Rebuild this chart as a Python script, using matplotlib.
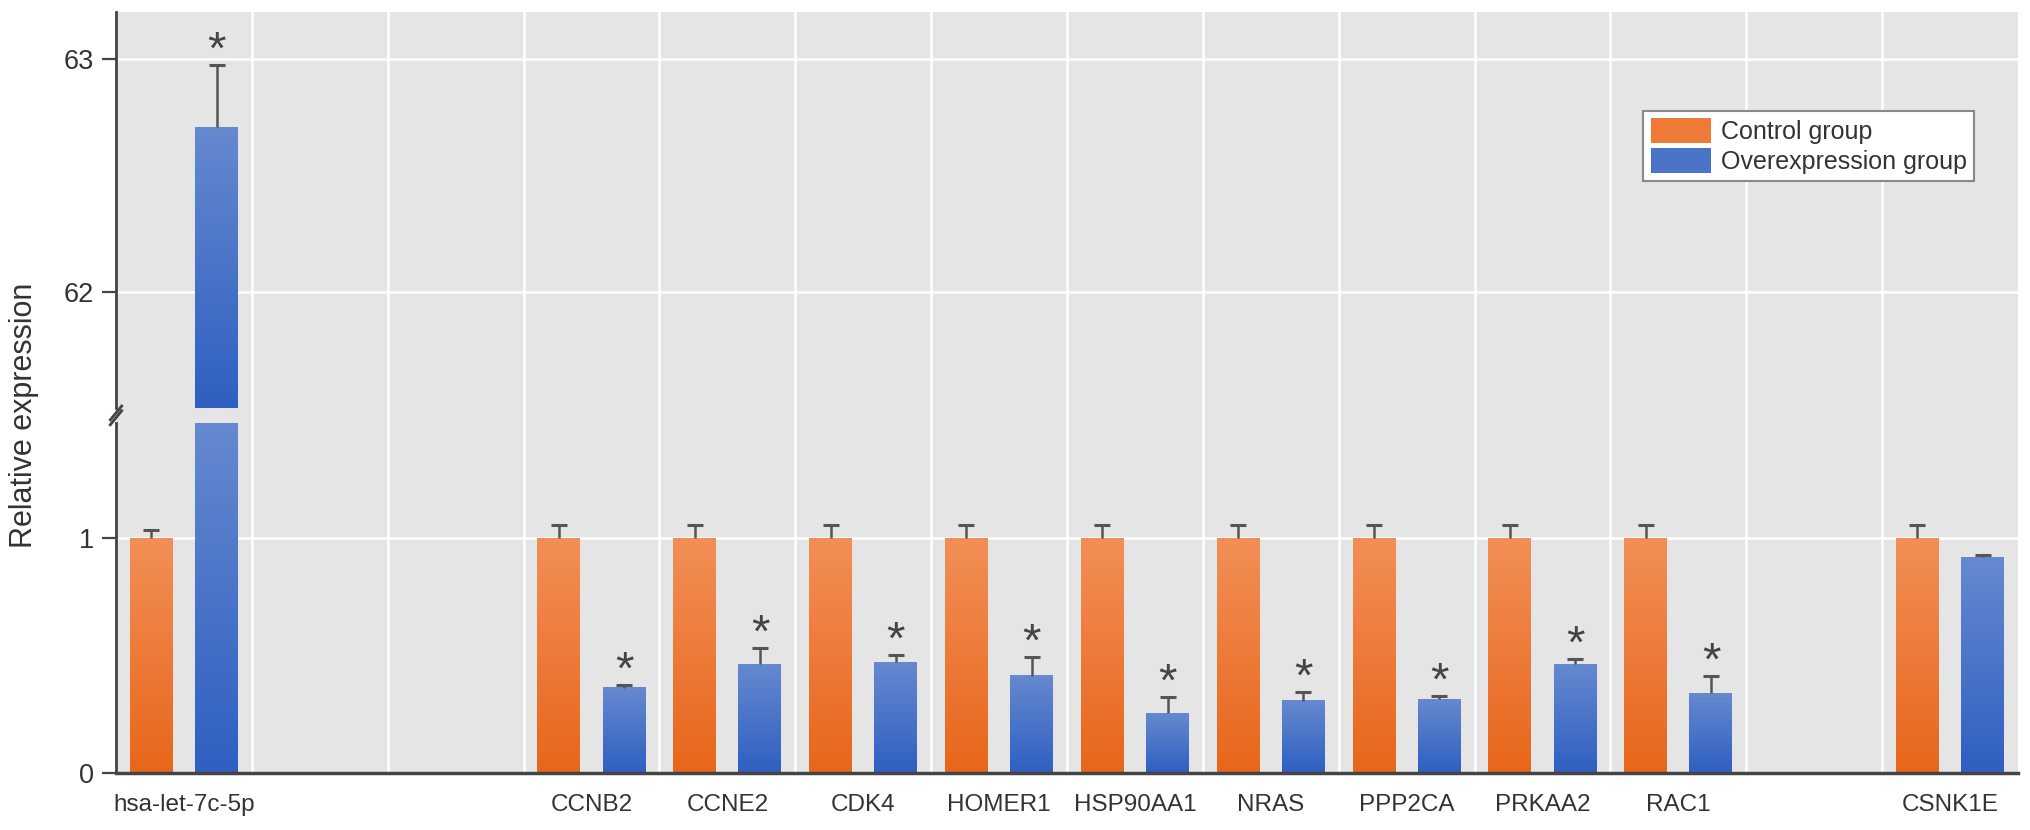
import numpy as np
import matplotlib
matplotlib.use('Agg')
import matplotlib.pyplot as plt
from matplotlib.colors import LinearSegmentedColormap
from matplotlib.patches import Rectangle
from matplotlib.transforms import blended_transform_factory

plt.rcParams['font.family'] = ['Liberation Sans', 'DejaVu Sans']

nan = np.nan
# blank labels are the empty slots on the x axis
labels = ['hsa-let-7c-5p', '', '', 'CCNB2', 'CCNE2', 'CDK4', 'HOMER1', 'HSP90AA1',
          'NRAS', 'PPP2CA', 'PRKAA2', 'RAC1', '', 'CSNK1E']
control = [1.0, nan, nan, 1.0, 1.0, 1.0, 1.0, 1.0, 1.0, 1.0, 1.0, 1.0, nan, 1.0]
control_err = [0.034, nan, nan, 0.055, 0.055, 0.055, 0.055, 0.055, 0.055, 0.055, 0.055, 0.055, nan, 0.055]
over = [62.705, nan, nan, 0.362, 0.464, 0.472, 0.413, 0.255, 0.307, 0.313, 0.464, 0.340, nan, 0.919]
over_err = [0.269, nan, nan, 0.012, 0.068, 0.030, 0.081, 0.070, 0.038, 0.015, 0.021, 0.073, nan, 0.009]
signif = [True, False, False, True, True, True, True, True, True, True, True, True, False, False]

orange_cm = LinearSegmentedColormap.from_list('o', ['#e8661a', '#f28f57'])
blue_cm = LinearSegmentedColormap.from_list('b', ['#2f5fc2', '#6689cf'])
grad = np.linspace(0, 1, 256).reshape(-1, 1)

fig = plt.figure(figsize=(20.31, 8.30), dpi=100)
L, W = 116 / 2031, 1902 / 2031
ax_top = fig.add_axes([L, 422 / 830, W, 396 / 830])
ax_bot = fig.add_axes([L, 57 / 830, W, 350 / 830])
# grey strip in the break gap
fig.add_artist(Rectangle((L, 407 / 830), W, 15 / 830, transform=fig.transFigure,
                         facecolor='#e5e5e5', edgecolor='none', zorder=-1))

x = np.arange(len(labels))
n = len(labels)
off, bw = 0.24, 0.316


def draw(ax, lo, hi):
    ax.set_facecolor('#e5e5e5')
    ax.set_axisbelow(True)
    b1 = ax.bar(x - off, control, bw, color='#ee7a38', zorder=2, label='Control group')
    b2 = ax.bar(x + off, over, bw, color='#4a74c8', zorder=2, label='Overexpression group')
    for bars, cm in ((b1, orange_cm), (b2, blue_cm)):
        for r in bars:
            h = r.get_height()
            if not np.isfinite(h) or h <= lo:
                continue
            ax.imshow(grad, extent=[r.get_x(), r.get_x() + r.get_width(), lo, min(h, hi)],
                      cmap=cm, aspect='auto', origin='lower', zorder=2.5)
    for xs, vals, errs in ((x - off, control, control_err), (x + off, over, over_err)):
        eb = ax.errorbar(xs, vals, yerr=[np.zeros(n), errs], fmt='none',
                         ecolor='#555555', elinewidth=1.8, capsize=5.5, capthick=2.2, zorder=3)
        eb[1][0].set_visible(False)  # no cap at the bar top
    for i in range(n):
        if signif[i] and lo <= over[i] + over_err[i] <= hi:
            ax.annotate('*', (x[i] + off, over[i] + over_err[i]), xytext=(0, 1),
                        textcoords='offset points', ha='center', va='baseline',
                        fontsize=34, color='#444444', zorder=4)
    ax.set_xlim(-0.5, n - 0.5)
    ax.set_ylim(lo, hi)
    ax.set_xticks(x)
    ax.set_xticks(np.arange(0.5, n - 1, 1), minor=True)
    ax.xaxis.grid(True, which='minor', color='white', lw=1.8)
    ax.yaxis.grid(True, color='white', lw=1.8)
    ax.tick_params(axis='x', which='both', length=0)
    ax.tick_params(axis='y', direction='out', length=10, width=1.6, color='#444444',
                   labelsize=19.5, labelcolor='#333333', pad=6)
    for s in ['top', 'right']:
        ax.spines[s].set_visible(False)
    ax.spines['left'].set_color('#444444')
    ax.spines['left'].set_linewidth(2)
    return b1, b2


b1, b2 = draw(ax_top, 61.5, 63.2)
draw(ax_bot, 0, 1.49)

ax_top.set_yticks([62, 63])
ax_top.spines['bottom'].set_visible(False)
ax_top.tick_params(axis='x', labelbottom=False)

ax_bot.set_yticks([0, 1])
ax_bot.spines['bottom'].set_color('#444444')
ax_bot.spines['bottom'].set_linewidth(2.5)
ax_bot.set_xticklabels(labels, fontsize=17.5, color='#333333')
ax_bot.tick_params(axis='x', pad=15)

# grid lines carried through the break gap
tr = blended_transform_factory(ax_bot.transData, ax_bot.transAxes)
ax_bot.vlines(np.arange(0.5, n - 1, 1), 1, 1 + 16 / 350, transform=tr, colors='white',
              lw=1.8, clip_on=False, zorder=0.5)

# break marks on the y axis
kw = dict(color='#444444', lw=2, clip_on=False)
ax_bot.plot([-0.003, 0.003], [1 - 0.005, 1 + 0.035], transform=ax_bot.transAxes, **kw)
ax_top.plot([-0.003, 0.003], [-0.03, 0.005], transform=ax_top.transAxes, **kw)

fig.text(24 / 2031, 0.5, 'Relative expression', rotation=90, ha='center', va='center',
         fontsize=22, color='#333333')

leg = ax_top.legend(handles=[b1, b2], loc='upper right', bbox_to_anchor=(0.977, 0.75),
                    fontsize=18, frameon=True, fancybox=False, edgecolor='#888888',
                    framealpha=1, handlelength=2.4, handleheight=1.15, labelspacing=0.15,
                    borderpad=0.3, handletextpad=0.4, borderaxespad=0)
leg.get_frame().set_linewidth(1.5)
for t in leg.get_texts():
    t.set_color('#333333')
leg.set_zorder(10)

fig.savefig('out.png', dpi=100)
